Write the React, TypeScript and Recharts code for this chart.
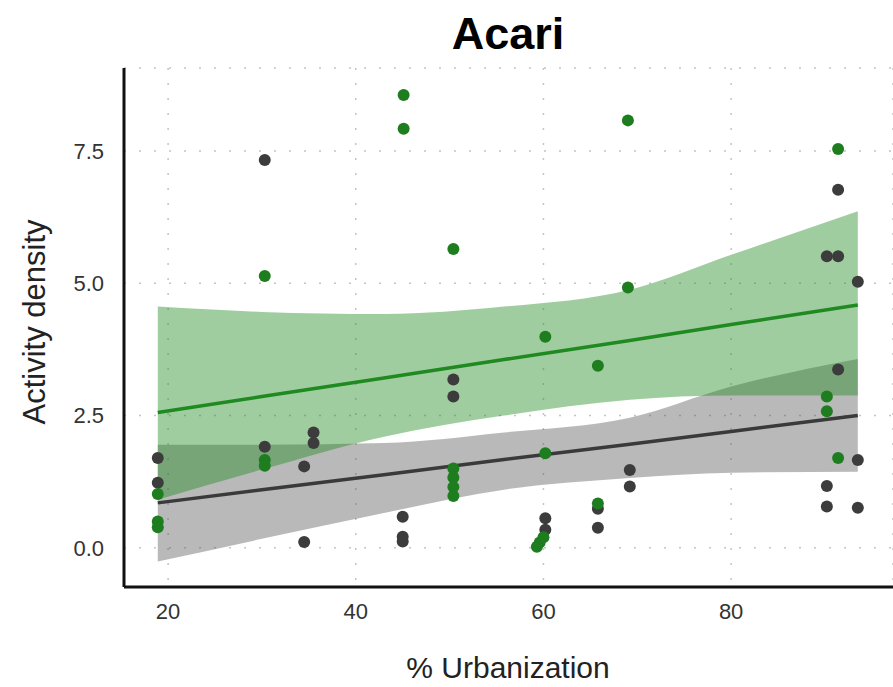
import React from "react";
import {
  ComposedChart,
  Area,
  Line,
  Scatter,
  XAxis,
  YAxis,
  CartesianGrid,
} from "recharts";

// ---- data ----
const xTicks = [20, 40, 60, 80];
const yTicks = [0, 2.5, 5, 7.5];

const bandX = [18.9, 30, 43, 55.8, 69.2, 80, 93.5];
const greenFit = [2.56, 2.86, 3.21, 3.56, 3.92, 4.22, 4.59];
const greenUpper = [4.56, 4.46, 4.42, 4.56, 4.88, 5.54, 6.36];
const greenLower = [0.91, 1.48, 2.1, 2.5, 2.8, 2.88, 2.88];
const grayFit = [0.85, 1.1, 1.38, 1.67, 1.96, 2.2, 2.5];
const grayUpper = [1.95, 1.95, 1.98, 2.18, 2.46, 3.05, 3.57];
const grayLower = [-0.26, 0.17, 0.66, 1.1, 1.32, 1.42, 1.44];

const greenX = [
  18.9, 18.9, 18.9, 30.3, 30.3, 30.3, 45.1, 45.1, 50.4, 50.4, 50.4, 50.4, 50.4,
  60.2, 60.2, 60.0, 59.6, 59.3, 65.8, 65.8, 69.0, 69.0, 91.4, 90.2, 90.2, 91.4,
];
const greenY = [
  1.02, 0.5, 0.39, 1.66, 1.55, 5.14, 8.56, 7.92, 5.65, 1.5, 1.33, 1.15, 0.98,
  3.99, 1.79, 0.2, 0.1, 0.02, 3.44, 0.84, 8.08, 4.92, 7.54, 2.86, 2.58, 1.7,
];

const grayX = [
  18.9, 18.9, 30.3, 30.3, 35.5, 35.5, 34.5, 34.5, 50.4, 50.4, 45.0, 45.0, 45.0,
  60.2, 60.2, 65.8, 65.8, 69.2, 69.2, 91.4, 90.2, 91.4, 93.5, 91.4, 93.5, 90.2,
  90.2, 93.5,
];
const grayY = [
  1.7, 1.23, 7.33, 1.91, 2.18, 1.98, 1.54, 0.11, 3.18, 2.86, 0.59, 0.21, 0.12,
  0.56, 0.34, 0.74, 0.38, 1.47, 1.16, 6.77, 5.51, 5.51, 5.03, 3.37, 1.66, 1.17,
  0.78, 0.76,
];

// ---- tables built from the arrays ----
const bandData = bandX.map((x, i) => ({
  x,
  gBand: [greenLower[i], greenUpper[i]],
  yBand: [grayLower[i], grayUpper[i]],
  gFit: greenFit[i],
  yFit: grayFit[i],
}));
const greenPts = greenX.map((x, i) => ({ x, y: greenY[i] }));
const grayPts = grayX.map((x, i) => ({ x, y: grayY[i] }));

const GREEN = "#228B22";
const GREEN_PT = "#1e7d1e";
const GRAY_PT = "#3c3c3c";
const FONT = "'Liberation Sans', Arial, sans-serif";

const dot = (color: string) => (props: any) => (
  <circle cx={props.cx} cy={props.cy} r={6} fill={color} />
);

export default function App() {
  return (
    <div
      style={{
        position: "absolute",
        left: 0,
        top: 0,
        width: 893,
        height: 687,
        background: "#fff",
        fontFamily: FONT,
      }}
    >
      <ComposedChart
        width={893}
        height={687}
        data={bandData}
        margin={{ top: 68, right: 0, bottom: 40, left: 0 }}
      >
        <CartesianGrid
          stroke="#c4c4c4"
          strokeWidth={1.5}
          strokeDasharray="2 13"
        />
        <XAxis
          dataKey="x"
          type="number"
          domain={[15.3, 97.25]}
          ticks={xTicks}
          height={60}
          allowDataOverflow
          tickLine={false}
          tickSize={0}
          tickMargin={16}
          axisLine={{ stroke: "#111", strokeWidth: 3 }}
          tick={{ fill: "#333", fontSize: 22, fontFamily: FONT }}
        />
        <YAxis
          type="number"
          domain={[-0.74, 9.07]}
          ticks={yTicks}
          width={124}
          allowDataOverflow
          tickLine={false}
          tickSize={0}
          tickMargin={20}
          tickFormatter={(v: number) => v.toFixed(1)}
          axisLine={{ stroke: "#111", strokeWidth: 3 }}
          tick={{ fill: "#333", fontSize: 22, fontFamily: FONT }}
        />
        <Area
          dataKey="yBand"
          type="monotone"
          stroke="none"
          fill="#505050"
          fillOpacity={0.4}
          isAnimationActive={false}
        />
        <Area
          dataKey="gBand"
          type="monotone"
          stroke="none"
          fill={GREEN}
          fillOpacity={0.43}
          isAnimationActive={false}
        />
        <Line
          dataKey="yFit"
          type="linear"
          stroke="#3a3a3a"
          strokeWidth={3.5}
          dot={false}
          isAnimationActive={false}
        />
        <Line
          dataKey="gFit"
          type="linear"
          stroke="#1f8a1f"
          strokeWidth={3.5}
          dot={false}
          isAnimationActive={false}
        />
        <Scatter
          data={grayPts}
          dataKey="y"
          shape={dot(GRAY_PT)}
          isAnimationActive={false}
        />
        <Scatter
          data={greenPts}
          dataKey="y"
          shape={dot(GREEN_PT)}
          isAnimationActive={false}
        />
      </ComposedChart>
      <svg
        width={893}
        height={687}
        style={{ position: "absolute", left: 0, top: 0, pointerEvents: "none" }}
      >
        <text
          x={508}
          y={49}
          textAnchor="middle"
          fontSize={45}
          fontWeight="bold"
          fill="#000"
          fontFamily={FONT}
        >
          Acari
        </text>
        <text
          x={508}
          y={678}
          textAnchor="middle"
          fontSize={30}
          fill="#222"
          fontFamily={FONT}
        >
          % Urbanization
        </text>
        <text
          x={45}
          y={322}
          textAnchor="middle"
          fontSize={31}
          fill="#222"
          fontFamily={FONT}
          transform="rotate(-90 45 322)"
        >
          Activity density
        </text>
      </svg>
    </div>
  );
}
